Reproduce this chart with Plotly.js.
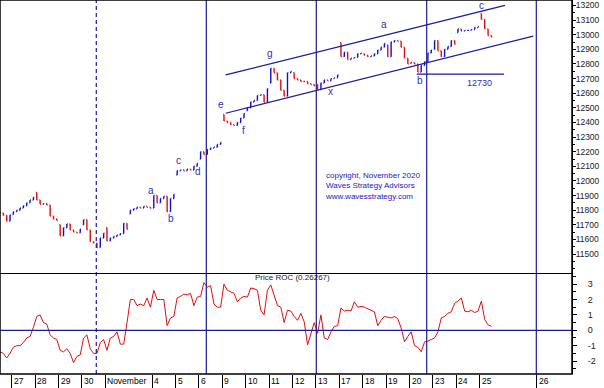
<!DOCTYPE html>
<html><head><meta charset="utf-8">
<script src="https://cdn.plot.ly/plotly-3.0.1.min.js"></script>
<style>html,body{margin:0;padding:0;background:#fff}#chart{width:604px;height:388px}</style>
</head><body><div id="chart"></div>
<script>
// ---- DATA ----
// trading days: Oct 26 .. Nov 25 (hourly bars, 7 per session)
const sessionNames = ["Oct 26","Oct 27","Oct 28","Oct 29","Oct 30","Nov 2","Nov 3","Nov 4","Nov 5","Nov 6","Nov 9","Nov 10","Nov 11","Nov 12","Nov 13","Nov 17","Nov 18","Nov 19","Nov 20","Nov 23","Nov 24","Nov 25"];
const barsPerSession = 7;
const sessionOpen = [11790,11770,11922,11700,11700,11680,11775,11815,12040,12150,12455,12480,12670,12740,12660,12945,12870,12930,12805,12900,13015,13145];
const barClose = [
  [null,null,null,11780,11765,11725,11767],
  [11790,11800,11815,11830,11850,11870,11889],
  [11870,11840,11845,11835,11760,11740,11729],
  [11625,11680,11705,11665,11650,11645,11670],
  [11735,11665,11585,11575,11545,11610,11642],
  [11590,11610,11620,11630,11640,11710,11669],
  [11800,11810,11820,11815,11825,11820,11813],
  [11900,11850,11880,11895,11790,11880,11908],
  [12070,12075,12070,12080,12075,12100,12120],
  [12200,12180,12215,12225,12230,12250,12263],
  [12410,12400,12385,12380,12400,12430,12461],
  [12500,12540,12550,12585,12590,12540,12631],
  [12770,12740,12690,12620,12580,12740,12749],
  [12700,12690,12680,12680,12665,12660,12650],
  [12625,12670,12690,12685,12700,12705,12725],
  [12850,12880,12830,12840,12845,12870,12874],
  [12860,12850,12855,12870,12895,12915,12940],
  [12850,12950,12960,12955,12915,12840,12800],
  [12810,12800,12745,12790,12815,12875,12895],
  [12960,12890,12850,12900,12920,12960,12935],
  [13040,13025,13030,13030,13035,13050,13055],
  [13105,13040,12995,12985]
];
const priceROC = [
  [null,null,null,-1.4,-1.5,-1.8,-1.5],
  [-1.1,-1.0,-1.0,-0.8,-0.5,-0.4,0.2],
  [0.9,1.0,0.5,0.4,-0.3,-0.5,-0.6],
  [-1.3,-1.4,-1.2,-1.5,-2.1,-1.7,-1.6],
  [-0.5,-0.3,-1.2,-1.5,-1.5,-0.8,-0.6],
  [-1.3,-0.5,-0.4,-0.1,-0.9,-0.9,0.5],
  [2.0,2.0,1.6,1.7,1.6,2.1,1.5],
  [2.6,2.0,2.0,2.0,0.3,0.8,0.9],
  [2.1,2.2,2.35,2.3,2.4,1.6,2.15],
  [2.2,3.1,2.8,2.9,1.7,1.5,1.5],
  [3.0,2.6,2.5,2.4,1.85,2.1,2.2],
  [2.15,2.75,2.7,2.6,1.3,1.0,2.6],
  [2.95,2.3,1.6,1.5,0.5,1.3,1.25],
  [0.9,0.65,1.1,0.55,-0.95,-0.25,0.5],
  [-0.2,1.0,-0.5,-0.6,-0.1,0.25,0.3],
  [1.45,1.25,1.3,1.25,1.85,1.5,1.55],
  [1.5,1.4,1.3,1.2,0.3,0.65,0.9],
  [0.85,0.8,0.9,0.75,0.15,-0.75,-0.4],
  [-0.1,-1.0,-1.1,-1.4,-0.75,-0.7,-0.6],
  [-0.5,-0.1,0.8,0.9,1.1,1.2,1.75],
  [1.9,2.1,1.25,1.2,1.3,1.15,1.25],
  [1.9,0.7,0.35,0.26]
];
// axis labels (session index where each label starts)
const axisLabels = ["27","28","29","30","November","4","5","6","9","10","11","12","13","17","18","19","20","23","24","25","26"];
const axisLabelDays = [1,2,3,4,5,7,8,9,10,11,12,13,14,15,16,17,18,19,20,21,23.44];
// price axis labels
const priceTicks = [11500,11600,11700,11800,11900,12000,12100,12200,12300,12400,12500,12600,12700,12800,12900,13000,13100,13200];
const rocTicks = [-2,-1,0,1,2,3];
// time-cycle lines (session units)
const cycleDays = [4.615,9.316,14.017,18.735,23.419];
// channel trendlines [x0,p0,x1,p1]
const channelUpper = [10.145,12725,22.08,13201];
const channelLower = [10.145,12463,23.29,12991];
const support12730 = [18.308,12730,22.038,12730];
// wave labels
const waveText = ["a","b","c","d","e","f","g","x","a","b","c"];
const waveX = [6.953,7.795,8.107,8.962,9.944,10.885,12.026,14.615,16.897,18.45,21.085];
const waveP = [11933,11746,12143,12063,12524,12348,12873,12615,13067,12690,13200];
const levelText = "12730";
const levelX = 20.97, levelP = 12670;

// ---- BUILD ----
const X=[],O=[],H=[],L=[],C=[],R=[];
barClose.forEach((day,d)=>{
  let prev=null;
  day.forEach((c,s)=>{
    if(c==null) return;
    const o = prev==null ? sessionOpen[d] : prev;
    X.push(d+(s+0.5)/barsPerSession);
    O.push(o); C.push(c); H.push(Math.max(o,c)); L.push(Math.min(o,c));
    R.push(priceROC[d][s]);
    prev=c;
  });
});

const FONT = "Liberation Sans, Arial, sans-serif";
const NAVY = "#1a1a9a";
const splitY = 0.2687;

const traces = [
  {type:'ohlc', x:X, open:O, high:H, low:L, close:C, xaxis:'x2', yaxis:'y2',
   increasing:{line:{color:'#1010d0', width:1.4}}, decreasing:{line:{color:'#dd1010', width:1.4}},
   tickwidth:0.25, hoverinfo:'skip'},
  {type:'scatter', mode:'lines', x:X, y:R, xaxis:'x', yaxis:'y',
   line:{color:'#dd1010', width:1}, hoverinfo:'skip'}
];

const shapes = [];
cycleDays.forEach((d,i)=>shapes.push({type:'line', xref:'x', yref:'paper', x0:d, x1:d, y0:0, y1:1,
  line:{color:NAVY, width:1.2, dash: i===0 ? '4px,3px' : 'solid'}}));
[channelUpper, channelLower, support12730].forEach(l=>shapes.push({type:'line', xref:'x2', yref:'y2',
  x0:l[0], y0:l[1], x1:l[2], y1:l[3], line:{color:NAVY, width:1.2}}));
shapes.push({type:'line', xref:'paper', yref:'y', x0:0, x1:1, y0:0, y1:0, line:{color:NAVY, width:1.2}});
shapes.push({type:'line', xref:'paper', yref:'paper', x0:0, x1:1, y0:splitY, y1:splitY, line:{color:'#000', width:1.2}});
shapes.push({type:'rect', xref:'paper', yref:'paper', x0:0, x1:1, y0:0, y1:1, line:{color:'#000', width:1.5}});

const annotations = [];
waveText.forEach((t,i)=>annotations.push({xref:'x2', yref:'y2', x:waveX[i], y:waveP[i], text:t, showarrow:false,
  font:{family:FONT, size:10, color:'#3030b0'}}));
annotations.push({xref:'x2', yref:'y2', x:levelX, y:levelP, text:levelText, showarrow:false,
  font:{family:FONT, size:9, color:'#3030b0'}});
annotations.push({xref:'x2', yref:'y2', x:14.3, y:12080, xanchor:'left', yanchor:'top', align:'left', showarrow:false,
  text:'copyright, November 2020<br>Waves Strategy Advisors<br>www.wavesstrategy.com',
  font:{family:FONT, size:8, color:'#2020c0'}});
annotations.push({xref:'x', yref:'y', x:11.3, y:3.46, xanchor:'left', showarrow:false, text:'Price ROC (0.26267)',
  font:{family:FONT, size:8, color:'#202020'}});
axisLabels.forEach((t,i)=>annotations.push({xref:'x', yref:'paper', x:axisLabelDays[i], y:0, xanchor:'left', yanchor:'middle',
  xshift:0, yshift:-7, text:t, showarrow:false, font:{family:FONT, size:8.5, color:'#000'}}));

const layout = {
  width:604, height:388, margin:{l:0, r:32, t:0, b:14},
  paper_bgcolor:'#fff', plot_bgcolor:'#fff', showlegend:false,
  font:{family:FONT, size:9, color:'#000'},
  xaxis:{domain:[0,1], anchor:'y', range:[0.5,24.944], tickvals:axisLabelDays, ticks:'outside', ticklen:14,
    tickcolor:'#000', tickwidth:1, showticklabels:false, showgrid:false, zeroline:false, showline:false},
  xaxis2:{domain:[0,1], anchor:'y2', matches:'x', showticklabels:false, ticks:'', showgrid:false, zeroline:false,
    rangeslider:{visible:false}},
  yaxis:{domain:[0,splitY], side:'right', range:[-2.838,3.688], tickvals:rocTicks, ticktext:rocTicks.map(String),
    ticks:'outside', ticklen:4, tickcolor:'#000', showline:true, linecolor:'#000', showgrid:false, zeroline:false,
    minor:{tickvals:[-2.5,-1.5,-0.5,0.5,1.5,2.5,3.5], ticks:'outside', ticklen:3, tickcolor:'#000'},
    ticklabelstandoff:9, tickfont:{family:FONT, size:9, color:'#222'}},
  yaxis2:{domain:[splitY,1], side:'right', range:[11366.9,13237.6], tickvals:priceTicks, ticktext:priceTicks.map(String),
    ticks:'outside', ticklen:3, tickcolor:'#000', showline:true, linecolor:'#000', showgrid:false, zeroline:false,
    minor:{dtick:50, ticks:'outside', ticklen:2, tickcolor:'#000'},
    ticklabelstandoff:-2, tickfont:{family:FONT, size:8.5, color:'#222'}},
  shapes, annotations
};
Plotly.newPlot('chart', traces, layout, {staticPlot:true, displayModeBar:false});
</script></body></html>
